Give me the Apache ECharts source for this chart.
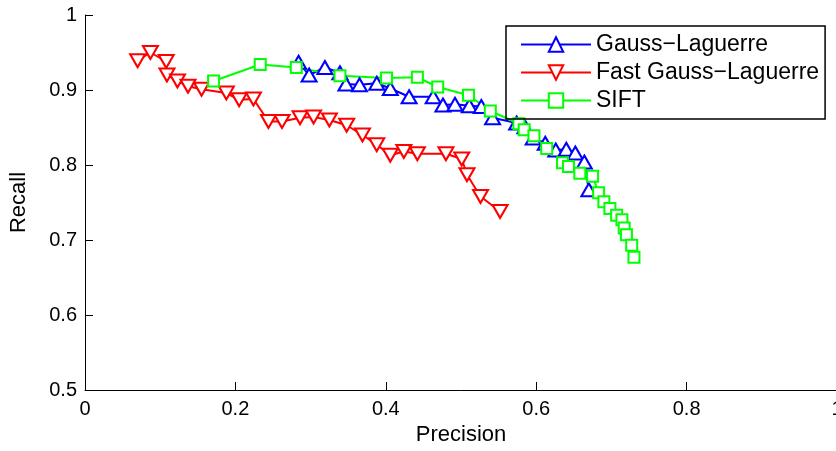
<!DOCTYPE html>
<html>
<head>
<meta charset="utf-8">
<script src="https://cdn.jsdelivr.net/npm/echarts@6/dist/echarts.min.js"></script>
<style>
	html,body{margin:0;padding:0;background:#fff;}
	#pr_chart{width:836px;height:451px;}
</style>
</head>
<body>
<div id="pr_chart"></div>
<script type="text/javascript">
	// 图例名称
	var seriesNames = ['Gauss\u2212Laguerre', 'Fast Gauss\u2212Laguerre', 'SIFT'];
	// Precision / Recall 数据
	var gaussPrecision = [0.284,0.298,0.319,0.339,0.347,0.365,0.388,0.406,0.431,0.463,0.476,0.492,0.511,0.527,0.542,0.574,0.585,0.596,0.612,0.626,0.640,0.652,0.664,0.670];
	var gaussRecall    = [0.937,0.920,0.930,0.923,0.908,0.907,0.909,0.902,0.891,0.891,0.880,0.881,0.879,0.878,0.863,0.856,0.851,0.836,0.829,0.820,0.821,0.816,0.804,0.767];
	var fastPrecision = [0.070,0.087,0.108,0.109,0.123,0.137,0.155,0.188,0.205,0.224,0.244,0.262,0.286,0.304,0.325,0.348,0.369,0.388,0.406,0.424,0.442,0.480,0.501,0.508,0.526,0.552];
	var fastRecall    = [0.939,0.950,0.938,0.920,0.912,0.905,0.901,0.896,0.887,0.888,0.858,0.858,0.863,0.864,0.860,0.853,0.840,0.827,0.813,0.818,0.815,0.815,0.808,0.787,0.758,0.738];
	var siftPrecision = [0.171,0.233,0.281,0.339,0.401,0.442,0.469,0.510,0.539,0.577,0.584,0.597,0.614,0.635,0.643,0.658,0.675,0.683,0.690,0.698,0.707,0.714,0.717,0.720,0.727,0.730];
	var siftRecall    = [0.912,0.934,0.930,0.919,0.916,0.917,0.904,0.893,0.872,0.855,0.847,0.839,0.822,0.803,0.798,0.789,0.785,0.763,0.751,0.742,0.733,0.727,0.716,0.707,0.693,0.677];

	function pairs(xs, ys){
		var out = [];
		for (var i = 0; i < xs.length; i++) out.push([xs[i], ys[i]]);
		return out;
	}

	var font = 'Liberation Sans, Arial, sans-serif';
	var chart = echarts.init(document.getElementById('pr_chart'));
	var option = {
		animation:false,
		backgroundColor:'#fff',
		color:['#0000ff','#ff0000','#00ff00'],
		grid:{
			left:85,
			top:15,
			width:752,
			height:375,
			outerBoundsMode:'none',
			containLabel:false,
		},
		legend:{
			orient:'vertical',
			left:506,
			top:26,
			borderColor:'#000',
			borderWidth:1.5,
			padding:[7,6,7,14],
			itemWidth:70,
			itemHeight:18,
			itemGap:5,
			textStyle:{
				color:'#000',
				fontFamily:font,
				fontSize:23,
			},
			data:seriesNames
		},
		xAxis:{
			type:'value',
			min:0,
			max:1,
			interval:0.2,
			name:'Precision',
			nameLocation:'middle',
			nameGap:34,
			nameTextStyle:{color:'#000',fontFamily:font,fontSize:22},
			axisLabel:{color:'#000',fontFamily:font,fontSize:20,margin:9},
			axisTick:{show:true,inside:true,length:8,lineStyle:{color:'#000'}},
			axisLine:{show:true,onZero:false,lineStyle:{color:'#000',width:1}},
			splitLine:{show:false}
		},
		yAxis:{
			type:'value',
			min:0.5,
			max:1,
			interval:0.1,
			name:'Recall',
			nameLocation:'middle',
			nameGap:55,
			nameTextStyle:{color:'#000',fontFamily:font,fontSize:22},
			axisLabel:{color:'#000',fontFamily:font,fontSize:20,margin:8},
			axisTick:{show:true,inside:true,length:8,lineStyle:{color:'#000'}},
			axisLine:{show:true,onZero:false,lineStyle:{color:'#000',width:1}},
			splitLine:{show:false}
		},
		series:[{
			name:seriesNames[0],
			type:'line',
			data:pairs(gaussPrecision, gaussRecall),
			symbol:'emptyTriangle',
			symbolSize:[15,13],
			lineStyle:{width:2},
			itemStyle:{borderWidth:2},
		},
		{
			name:seriesNames[1],
			type:'line',
			data:pairs(fastPrecision, fastRecall),
			symbol:'emptyTriangle',
			symbolRotate:180,
			symbolSize:[15,13],
			lineStyle:{width:2},
			itemStyle:{borderWidth:2},
		},
		{
			name:seriesNames[2],
			type:'line',
			data:pairs(siftPrecision, siftRecall),
			symbol:'emptyRect',
			symbolSize:11,
			lineStyle:{width:2},
			itemStyle:{borderWidth:2},
		}]
	};
	chart.setOption(option);
</script>
</body>
</html>
